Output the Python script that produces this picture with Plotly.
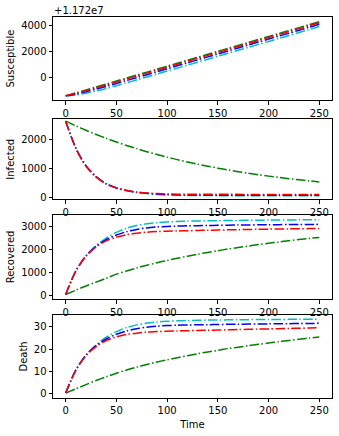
import plotly.graph_objects as go

# time grid (days)
time = [0, 10, 20, 30, 40, 50, 60, 70, 80, 90, 100, 110, 120, 130, 140, 150,
        160, 170, 180, 190, 200, 210, 220, 230, 240, 250]

# susceptible is shown relative to an offset, like matplotlib does
S_OFFSET = 1.172e7
S_OFFSET_LABEL = "+1.172e7"

sus_red = [-1420, -1230, -1020, -800, -575, -348, -120, 110, 340, 570, 800, 1030, 1260,
           1490, 1720, 1950, 2180, 2410, 2640, 2870, 3100, 3330, 3560, 3790, 4020, 4250]
sus_blue = [-1420, -1280, -1100, -900, -685, -462, -236, -8, 220, 450, 680, 910, 1140,
            1370, 1600, 1830, 2060, 2290, 2520, 2750, 2980, 3210, 3440, 3670, 3900, 4130]
sus_cyan = [-1420, -1350, -1220, -1050, -850, -635, -412, -186, 42, 270, 500, 730, 960,
            1190, 1420, 1650, 1880, 2110, 2340, 2570, 2800, 3030, 3260, 3490, 3720, 3950]
sus_green = [-1420, -1190, -960, -730, -500, -270, -40, 190, 420, 650, 880, 1110, 1340,
             1570, 1800, 2030, 2260, 2490, 2720, 2950, 3180, 3410, 3640, 3870, 4100, 4330]

inf_red = [2650, 1700, 1080, 700, 460, 320, 235, 180, 148, 128, 116, 110, 107,
           105, 104, 103, 102, 102, 101, 101, 100, 100, 100, 100, 100, 100]
inf_blue = [2650, 1710, 1095, 715, 470, 325, 235, 175, 138, 112, 96, 86, 80,
            77, 75, 74, 73, 73, 72, 72, 72, 72, 72, 72, 72, 72]
inf_cyan = [2650, 1720, 1110, 730, 480, 330, 235, 170, 128, 100, 82, 71, 65,
            61, 59, 58, 57, 57, 56, 56, 56, 56, 56, 56, 56, 56]
inf_green = [2650, 2486, 2332, 2187, 2052, 1925, 1805, 1693, 1588, 1490, 1398, 1311, 1230,
             1154, 1082, 1015, 952, 893, 838, 786, 737, 692, 649, 609, 571, 535]

rec_red = [30, 1052, 1700, 2113, 2376, 2541, 2647, 2713, 2757, 2783, 2800, 2812, 2822,
           2832, 2842, 2851, 2860, 2868, 2876, 2884, 2891, 2898, 2904, 2910, 2915, 2920]
rec_blue = [30, 1060, 1715, 2140, 2430, 2635, 2780, 2880, 2945, 2985, 3010, 3025, 3035,
            3045, 3052, 3058, 3064, 3070, 3075, 3080, 3084, 3088, 3092, 3095, 3098, 3100]
rec_cyan = [30, 1065, 1730, 2170, 2500, 2750, 2930, 3050, 3130, 3175, 3205, 3225, 3238,
            3248, 3256, 3263, 3269, 3274, 3279, 3283, 3287, 3291, 3294, 3297, 3299, 3301]
rec_green = [30, 220, 400, 570, 740, 920, 1060, 1190, 1310, 1420, 1520, 1615, 1705,
             1790, 1870, 1945, 2020, 2085, 2150, 2215, 2275, 2330, 2385, 2435, 2485, 2530]

death_red = [0.3, 10.5, 17.0, 21.1, 23.8, 25.4, 26.5, 27.1, 27.6, 27.8, 28.0, 28.1, 28.2,
             28.3, 28.4, 28.5, 28.6, 28.7, 28.8, 28.9, 29.0, 29.1, 29.2, 29.3, 29.4, 29.5]
death_blue = [0.3, 10.6, 17.2, 21.5, 24.5, 26.6, 28.1, 29.1, 29.8, 30.2, 30.5, 30.65, 30.75,
              30.85, 30.9, 31.0, 31.05, 31.1, 31.15, 31.2, 31.25, 31.3, 31.35, 31.4, 31.45, 31.5]
death_cyan = [0.3, 10.7, 17.4, 21.9, 25.3, 27.8, 29.6, 30.8, 31.6, 32.1, 32.4, 32.6, 32.75,
              32.85, 32.95, 33.0, 33.05, 33.1, 33.15, 33.2, 33.22, 33.25, 33.27, 33.3, 33.32, 33.35]
death_green = [0.3, 2.2, 4.1, 5.9, 7.6, 9.2, 10.6, 11.9, 13.1, 14.2, 15.2, 16.1, 17.0,
               17.9, 18.7, 19.4, 20.2, 20.8, 21.5, 22.1, 22.7, 23.3, 23.8, 24.4, 24.9, 25.4]

colors = {"green": "#008000", "cyan": "#00bfbf", "blue": "#0000ff", "red": "#ff0000"}

panels = [
    ("Susceptible", {"green": sus_green, "cyan": sus_cyan, "blue": sus_blue, "red": sus_red}),
    ("Infected", {"green": inf_green, "cyan": inf_cyan, "blue": inf_blue, "red": inf_red}),
    ("Recovered", {"green": rec_green, "cyan": rec_cyan, "blue": rec_blue, "red": rec_red}),
    ("Death", {"green": death_green, "cyan": death_cyan, "blue": death_blue, "red": death_red}),
]

W, H = 339, 436
ML, MR, MT, MB = 53, 7, 16.7, 37.7
PH = H - MT - MB
# pixel boxes of the four axes (top, bottom)
boxes = [(16.7, 100), (119, 199.3), (214.7, 299.3), (315, 398.3)]
y_ranges = [[-1755, 4693], [-70, 2720], [-175, 3524], [-1.9, 35.3]]
y_dticks = [2000, 1000, 1000, 10]

fig = go.Figure()
dash = "9.6px,2.4px,1.5px,2.4px"

for i, (name, series) in enumerate(panels):
    n = "" if i == 0 else str(i + 1)
    for key in ["green", "cyan", "blue", "red"]:
        fig.add_trace(go.Scatter(
            x=time, y=series[key], mode="lines", xaxis="x" + n, yaxis="y" + n,
            line=dict(color=colors[key], width=1.5, dash=dash, shape="spline", smoothing=0.8),
            showlegend=False, hoverinfo="skip",
        ))
    top, bottom = boxes[i]
    axis_style = dict(
        showline=True, linecolor="black", linewidth=0.8, mirror=True,
        ticks="outside", ticklen=3.5, tickwidth=0.8, tickcolor="black",
        showgrid=False, zeroline=False, tickfont=dict(size=10, color="black"),
        automargin=True,
    )
    fig.layout["xaxis" + n] = dict(
        domain=[0, 1], range=[-12.5, 262.5], anchor="y" + n,
        tickvals=[0, 50, 100, 150, 200, 250],
        title=dict(text="Time", font=dict(size=10, color="black"), standoff=5) if i == 3 else None,
        **axis_style,
    )
    d0 = max(0, (H - MB - bottom) / PH)
    d1 = min(1, (H - MB - top) / PH)
    fig.layout["yaxis" + n] = dict(
        domain=[d0, d1], range=y_ranges[i], anchor="x" + n,
        dtick=y_dticks[i], tick0=0,
        title=dict(text=name, font=dict(size=10, color="black"), standoff=4),
        **axis_style,
    )

fig.add_annotation(
    text=S_OFFSET_LABEL, xref="paper", yref="paper", x=0, y=1,
    xanchor="left", yanchor="bottom", showarrow=False, borderpad=0,
    font=dict(size=10, color="black"),
)

fig.update_layout(
    width=W, height=H, margin=dict(l=ML, r=MR, t=MT, b=MB, autoexpand=False),
    paper_bgcolor="white", plot_bgcolor="white",
    font=dict(family="DejaVu Sans", size=10, color="black"),
)

# drop the browser's default 8px body margin so the figure sits at (0, 0)
fig.write_html("out.html", config={"displayModeBar": False},
               post_script="document.body.style.margin='0';")
